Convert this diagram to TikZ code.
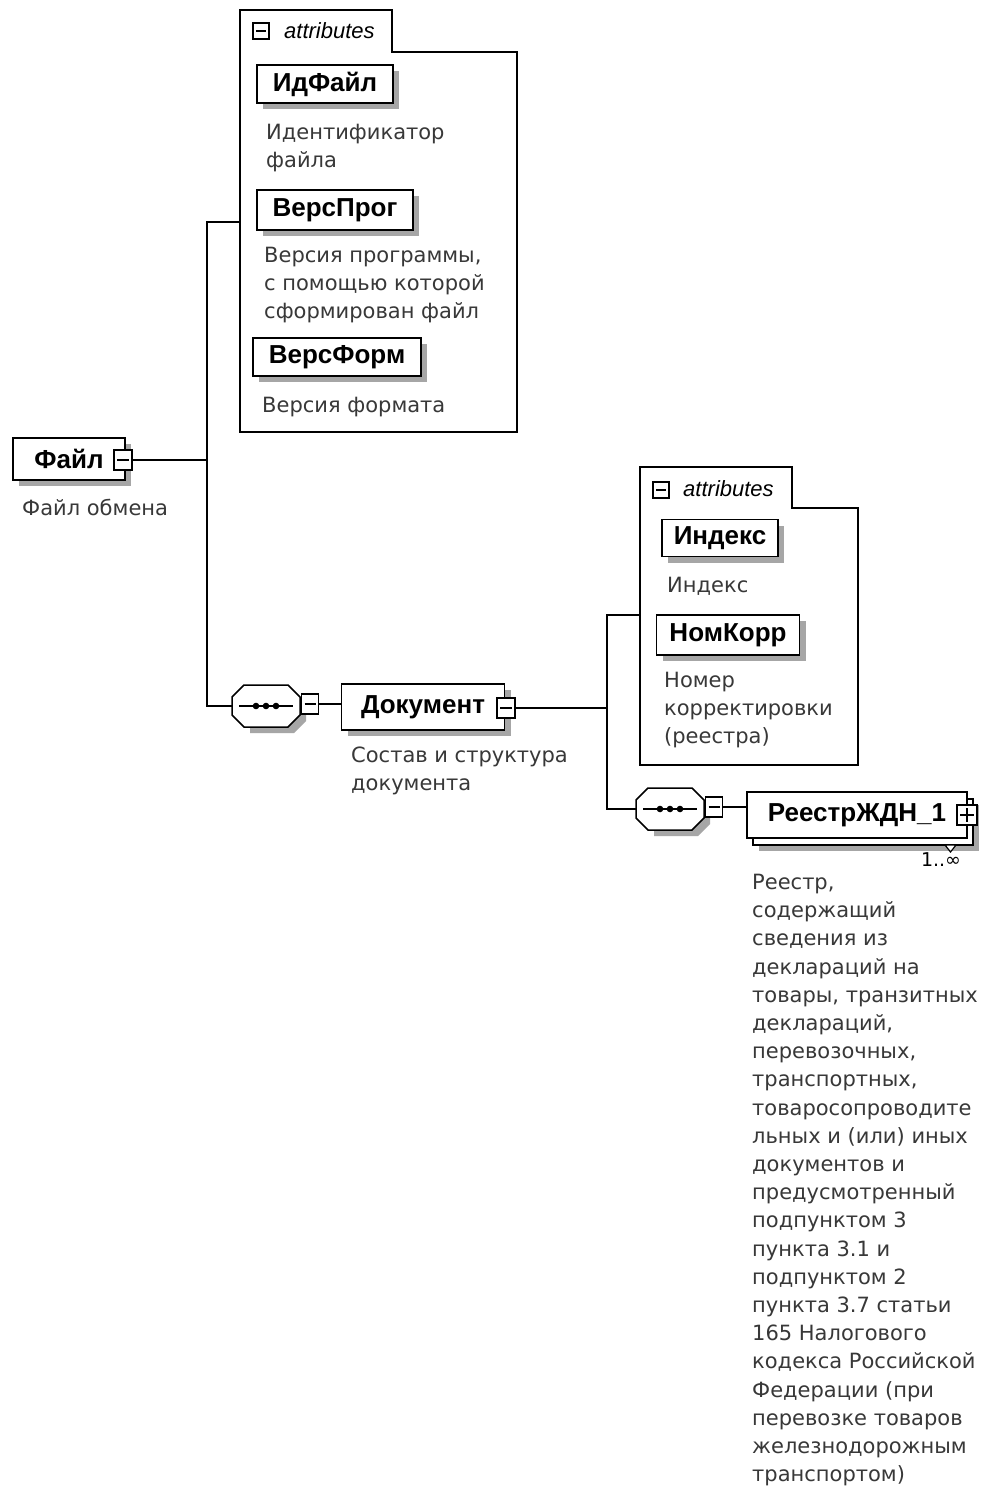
\documentclass[tikz,border=0pt]{standalone}
\usepackage{fontspec}
\setmainfont{DejaVu Sans}
\newfontfamily\lab{Liberation Sans}
\usetikzlibrary{shadows,calc}
\definecolor{shadowgray}{gray}{0.65}
\definecolor{desctext}{gray}{0.22}
\tikzset{
  elem/.style={draw, line width=1.6pt, fill=white, inner sep=0pt,
    font=\lab\bfseries\fontsize{26}{30}\selectfont,
    drop shadow={shadow xshift=6pt, shadow yshift=-6pt, fill=shadowgray, opacity=1}},
  elemns/.style={draw, line width=1.6pt, fill=white, inner sep=0pt,
    font=\lab\bfseries\fontsize{26}{30}\selectfont},
  pmbox/.style={draw, line width=1.4pt, fill=white, minimum width=18pt, minimum height=20pt, inner sep=0pt},
  minusbox/.style={pmbox, path picture={\draw[line width=1.6pt]
    ([xshift=3pt]path picture bounding box.west) -- ([xshift=-3pt]path picture bounding box.east);}},
  plusbox/.style={pmbox, path picture={\draw[line width=1.6pt]
    ([xshift=3pt]path picture bounding box.west) -- ([xshift=-3pt]path picture bounding box.east)
    ([yshift=-3pt]path picture bounding box.north) -- ([yshift=3pt]path picture bounding box.south);}},
  desc/.style={anchor=north west, inner sep=0pt, align=left, text=desctext,
    font=\fontsize{21}{28.2}\selectfont},
  conn/.style={line width=1.5pt},
  abox/.style={line width=1.5pt, fill=white},
  attrlabel/.style={font=\lab\itshape\fontsize{22}{25}\selectfont, anchor=west, inner sep=0pt},
  seqsym/.pic={
    \fill[shadowgray] (-16,-15) -- (28,-15) -- (40,-3) -- (40,15) -- (28,27) -- (-16,27) -- cycle;
    \draw[line width=1.5pt, fill=white] (-22,-21) -- (22,-21) -- (34,-9) -- (34,9) -- (22,21)
      -- (-22,21) -- (-34,9) -- (-34,-9) -- cycle;
    \draw[line width=1.8pt] (-27,0) -- (27,0);
    \fill (-10,0) circle (3.3) (0,0) circle (3.3) (10,0) circle (3.3);
    \node[minimum width=68pt, minimum height=42pt, inner sep=0pt] (-b) at (0,0) {};
    \node[minusbox, minimum width=17pt, minimum height=20pt] (-m) at (44,-2) {};
  }
}
\begin{document}
\begin{tikzpicture}[x=1pt,y=-1pt]
\useasboundingbox (0,0) rectangle (981,1490);
\fill[white] (0,0) rectangle (981,1490);

% ---------- attributes box 1 ----------
\draw[abox] (240,10) -- (392,10) -- (392,52) -- (517,52) -- (517,432) -- (240,432) -- cycle;
\node[minusbox, minimum width=16pt, minimum height=16pt] (am1) at (261,31) {};
\node[attrlabel] (at1) at (284,31) {attributes};
\coordinate (a1) at (240,222);

\node[elem, minimum width=136pt, minimum height=38pt] (idf) at (325,84) {ИдФайл};
\node[desc] (idfd) at (266,124) {Идентификатор\\файла};
\node[elem, minimum width=156pt, minimum height=40pt] (vp) at (335,210) {ВерсПрог};
\node[desc] (vpd) at (264,247) {Версия программы,\\с помощью которой\\сформирован файл};
\node[elem, minimum width=168pt, minimum height=38pt] (vf) at (337,357) {ВерсФорм};
\node[desc] (vfd) at (262,397) {Версия формата};

% ---------- root ----------
\node[elem, minimum width=112pt, minimum height=42pt] (fl) at (69,459) {Файл\hspace{12pt}};
\node[minusbox] (flm) at (123,460) {};
\node[desc] (fld) at (22,499) {Файл обмена};

\coordinate (b1t) at (207,222);
\coordinate (b1b) at (207,706);

% ---------- sequence 1 and Документ ----------
\pic (s1) at (266,706) {seqsym};
\node[elem, minimum width=163pt, minimum height=46pt] (doc) at (423,707) {Документ\hspace{12pt}};
\node[minusbox] (docm) at (506,708) {};
\node[desc] (docd) at (351,747) {Состав и структура\\документа};

\draw[conn] (flm.east) -- (flm.east -| b1t);
\draw[conn] (a1) -- (b1t) -- (b1b) -- (s1-b.west);
\draw[conn] (s1-m.east) -- (s1-m.east -| doc.west);

\coordinate (b2t) at (607,615);
\coordinate (b2b) at (607,809);
\draw[conn] (docm.east) -- (docm.east -| b2t);

% ---------- attributes box 2 ----------
\draw[abox] (640,467) -- (792,467) -- (792,508) -- (858,508) -- (858,765) -- (640,765) -- cycle;
\node[minusbox, minimum width=16pt, minimum height=16pt] (am2) at (661,490) {};
\node[attrlabel] (at2) at (683,489) {attributes};
\coordinate (a2) at (640,615);

\node[elem, minimum width=116pt, minimum height=37pt] (idx) at (720,538) {Индекс};
\node[desc] (idxd) at (667,577) {Индекс};
\node[elem, minimum width=143pt, minimum height=40pt] (nk) at (728,635) {НомКорр};
\node[desc] (nkd) at (664,672) {Номер\\корректировки\\(реестра)};

% ---------- sequence 2 and РеестрЖДН_1 ----------
\pic (s2) at (670,809) {seqsym};
\draw[conn] (a2) -- (b2t) -- (b2b) -- (s2-b.west);
\node[elem, minimum width=220pt, minimum height=46pt] (r1back) at (863,822) {};
\node[elemns, minimum width=220pt, minimum height=46pt] (r1) at (857,815) {РеестрЖДН\_1\hspace{14pt}};
\node[plusbox, minimum width=20pt] (r1p) at (967,815) {};
\draw[conn] (s2-m.east) -- (s2-m.east -| r1.west);
\draw[line width=1.2pt, fill=white] (945,845) -- (956,845) -- (950.5,852) -- cycle;
\node[inner sep=0pt, font=\fontsize{19}{22}\selectfont] (r1c) at (941,860) {1..∞};
\node[desc] (r1d) at (752,874) {Реестр,\\содержащий\\сведения из\\деклараций на\\товары, транзитных\\деклараций,\\перевозочных,\\транспортных,\\товаросопроводите\\льных и (или) иных\\документов и\\предусмотренный\\подпунктом 3\\пункта 3.1 и\\подпунктом 2\\пункта 3.7 статьи\\165 Налогового\\кодекса Российской\\Федерации (при\\перевозке товаров\\железнодорожным\\транспортом)};
\end{tikzpicture}
\end{document}
